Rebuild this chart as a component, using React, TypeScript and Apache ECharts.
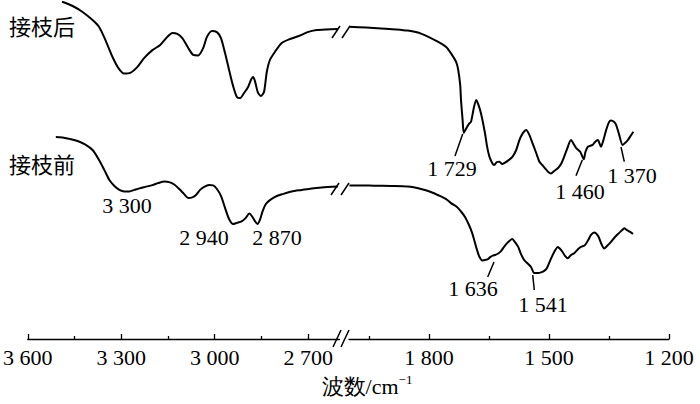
import React, { useEffect, useRef } from "react";
import * as echarts from "echarts";

// Wavenumber ticks (cm^-1)
const LEFT_TICKS = [3600, 3300, 3000, 2700];
const LEFT_MINOR = [3450, 3150, 2850];
const RIGHT_TICKS = [1800, 1500, 1200];
const RIGHT_MINOR = [1950, 1650, 1350];

// 接枝后 (after grafting), high wavenumber part: [wavenumber, transmittance]
const afterHigh: [number, number][] = [
  [3490, 112.4], [3456, 111.0], [3424, 109.0], [3392, 106.3], [3371, 104.0], [3351, 99.7],
  [3328, 94.0], [3309, 90.3], [3291, 88.5], [3271, 88.7], [3248, 90.7], [3226, 93.7],
  [3200, 96.3], [3175, 98.0], [3152, 100.7], [3136, 102.0], [3120, 101.7], [3104, 100.3],
  [3085, 97.0], [3069, 94.7], [3053, 94.5], [3037, 97.0], [3025, 100.7], [3009, 102.7],
  [2993, 102.3], [2980, 100.3], [2967, 95.3], [2954, 89.7], [2941, 84.3], [2929, 80.7],
  [2919, 80.3], [2906, 82.0], [2893, 84.0], [2884, 86.3], [2877, 87.3], [2871, 86.0],
  [2862, 82.3], [2852, 81.0], [2842, 82.3], [2833, 89.0], [2823, 93.0], [2807, 95.7],
  [2785, 98.7], [2759, 100.0], [2730, 101.0], [2702, 102.3], [2673, 103.0], [2641, 103.2],
  [2605, 103.3],
];

// 接枝后, fingerprint part
const afterLow: [number, number][] = [
  [1999, 104.1], [1957, 103.8], [1920, 103.5], [1882, 103.2], [1853, 102.8], [1820, 101.8],
  [1778, 99.1], [1757, 97.3], [1745, 95.2], [1732, 92.3], [1727, 89.7], [1722, 84.7],
  [1720, 79.7], [1716, 73.0], [1713, 68.7], [1707, 70.2], [1700, 71.7], [1695, 72.4],
  [1688, 77.0], [1682, 79.7], [1677, 78.3], [1670, 75.2], [1660, 68.6], [1655, 64.3],
  [1649, 60.8], [1642, 58.7], [1637, 58.0], [1630, 59.0], [1624, 59.1], [1617, 58.3],
  [1612, 58.6], [1600, 59.7], [1591, 60.8], [1582, 63.0], [1574, 66.3], [1565, 68.7],
  [1557, 69.7], [1550, 68.3], [1541, 65.2], [1532, 62.0], [1524, 59.1], [1517, 58.0],
  [1510, 56.9], [1502, 55.7], [1495, 55.2], [1487, 56.0], [1478, 56.9], [1470, 58.3],
  [1462, 60.8], [1455, 63.3], [1445, 66.3], [1437, 64.7], [1432, 63.6], [1422, 62.4],
  [1413, 59.9], [1409, 62.3], [1403, 64.1], [1391, 64.7], [1385, 65.7], [1378, 66.3],
  [1370, 64.1], [1364, 66.3], [1357, 69.7], [1350, 72.3], [1345, 72.8], [1337, 72.3],
  [1332, 71.3], [1325, 68.3], [1316, 64.7], [1310, 65.3], [1303, 66.3], [1296, 67.7],
  [1289, 69.1],
];

// 接枝前 (before grafting), high wavenumber part
const beforeHigh: [number, number][] = [
  [3510, 67.3], [3488, 67.2], [3466, 66.7], [3440, 66.0], [3415, 64.8], [3392, 63.0],
  [3373, 60.0], [3354, 56.3], [3338, 53.0], [3322, 51.0], [3306, 49.7], [3290, 49.2],
  [3274, 49.2], [3258, 49.7], [3242, 50.2], [3223, 50.7], [3200, 51.3], [3181, 52.0],
  [3162, 52.5], [3146, 52.3], [3130, 51.5], [3114, 50.0], [3098, 48.3], [3085, 47.0],
  [3072, 47.2], [3060, 48.0], [3047, 49.7], [3034, 50.7], [3018, 51.3], [3005, 51.2],
  [2993, 50.0], [2980, 47.7], [2967, 43.7], [2954, 40.0], [2941, 38.3], [2929, 38.7],
  [2914, 39.2], [2901, 40.3], [2889, 41.8], [2881, 41.0], [2871, 39.3], [2863, 38.3],
  [2855, 39.7], [2846, 42.7], [2836, 45.0], [2823, 46.3], [2804, 47.5], [2782, 48.3],
  [2753, 49.2], [2721, 49.7], [2689, 50.2], [2657, 50.5], [2605, 50.8],
];

// 接枝前, fingerprint part
const beforeLow: [number, number][] = [
  [1999, 51.2], [1970, 51.2], [1938, 51.1], [1895, 51.0], [1853, 50.8], [1820, 50.0],
  [1795, 49.0], [1778, 48.0], [1758, 46.7], [1745, 45.3], [1730, 44.0], [1720, 42.5],
  [1710, 40.7], [1700, 38.0], [1692, 35.3], [1687, 33.0], [1680, 29.7], [1674, 27.4],
  [1667, 26.2], [1660, 26.3], [1653, 26.6], [1647, 27.3], [1641, 27.8], [1635, 28.0],
  [1627, 28.5], [1620, 29.3], [1612, 30.8], [1602, 32.3], [1592, 33.3], [1585, 32.3],
  [1577, 30.7], [1570, 28.3], [1562, 26.3], [1552, 25.0], [1545, 24.0], [1537, 22.0],
  [1527, 22.0], [1520, 22.2], [1512, 22.7], [1505, 23.7], [1495, 26.8], [1487, 29.0],
  [1478, 30.7], [1472, 30.0], [1466, 29.0], [1460, 27.7], [1453, 26.9], [1445, 28.0],
  [1437, 28.6], [1427, 30.0], [1420, 30.7], [1410, 31.3], [1402, 33.0], [1395, 34.7],
  [1387, 35.5], [1377, 34.3], [1370, 32.0], [1362, 30.2], [1355, 31.0], [1345, 32.4],
  [1335, 34.0], [1325, 35.3], [1317, 36.3], [1312, 36.9], [1305, 36.3], [1297, 35.7],
  [1290, 35.0],
];

const SERIES_NAMES = ["接枝后", "接枝前"];
const AXIS_TITLE = "波数/cm";
const AXIS_TITLE_SUP = "−1";

const SERIF = "Liberation Serif";
const CJK = "Noto Sans CJK SC";

const fmt = (v: number) =>
  v >= 1000 ? `${Math.floor(v / 1000)} ${String(v % 1000).padStart(3, "0")}` : String(v);

function mainAxis(gridIndex: number, min: number, max: number, ticks: number[]) {
  return {
    type: "value",
    gridIndex,
    position: "bottom",
    min,
    max,
    inverse: true,
    axisLine: { show: true, onZero: false, lineStyle: { color: "#000", width: 1.3 } },
    axisTick: { show: true, inside: true, length: 5, customValues: ticks, lineStyle: { color: "#000", width: 1.3 } },
    axisLabel: {
      show: true,
      customValues: ticks,
      formatter: fmt,
      color: "#000",
      fontSize: 22,
      fontFamily: SERIF,
      margin: 7,
    },
    splitLine: { show: false },
  };
}

function minorAxis(gridIndex: number, min: number, max: number, ticks: number[]) {
  return {
    type: "value",
    gridIndex,
    position: "bottom",
    offset: 0,
    min,
    max,
    inverse: true,
    axisLine: { show: false, onZero: false },
    axisTick: { show: true, inside: true, length: 3, customValues: ticks, lineStyle: { color: "#000", width: 1.3 } },
    axisLabel: { show: false },
    splitLine: { show: false },
  };
}

function lineSeries(name: string, data: [number, number][], axis: number) {
  return {
    type: "line",
    name,
    data,
    xAxisIndex: axis * 2,
    yAxisIndex: axis,
    showSymbol: false,
    smooth: 0.25,
    lineStyle: { color: "#000", width: 2 },
    silent: true,
  };
}

const slash = (x1: number, y1: number, x2: number, y2: number) => ({
  type: "line",
  shape: { x1, y1, x2, y2 },
  style: { stroke: "#000", lineWidth: 1.5 },
});

const label = (text: string, x: number, y: number, family = SERIF, size = 22, align = "center") => ({
  type: "text",
  x,
  y,
  style: { text, fill: "#000", fontSize: size, fontFamily: family, align, verticalAlign: "middle" },
});

export default function App() {
  const ref = useRef<HTMLDivElement>(null);
  useEffect(() => {
    if (!ref.current) return;
    const chart = echarts.init(ref.current, null, { renderer: "svg" });
    chart.setOption({
      animation: false,
      backgroundColor: "#fff",
      grid: [
        { left: 25, width: 314.4, top: 0, bottom: 65 },
        { left: 349, width: 320, top: 0, bottom: 65 },
      ],
      xAxis: [
        mainAxis(0, 2600, 3600, LEFT_TICKS),
        minorAxis(0, 2600, 3600, LEFT_MINOR),
        mainAxis(1, 1200, 2000, RIGHT_TICKS),
        minorAxis(1, 1200, 2000, RIGHT_MINOR),
      ],
      yAxis: [
        { type: "value", gridIndex: 0, min: 0, max: 113, show: false },
        { type: "value", gridIndex: 1, min: 0, max: 113, show: false },
      ],
      series: [
        lineSeries(SERIES_NAMES[0], afterHigh, 0),
        lineSeries(SERIES_NAMES[0], afterLow, 1),
        lineSeries(SERIES_NAMES[1], beforeHigh, 0),
        lineSeries(SERIES_NAMES[1], beforeLow, 1),
      ],
      graphic: [
        // break marks on the axis
        slash(333, 347, 341, 330),
        slash(341, 347, 349, 330),
        // break marks on the curves
        slash(332, 38, 340, 26),
        slash(342, 38, 350, 26),
        slash(331, 195, 339, 183),
        slash(341, 195, 349, 183),
        // curve names
        label(SERIES_NAMES[0], 9, 25, CJK, 22, "left"),
        label(SERIES_NAMES[1], 9, 163, CJK, 22, "left"),
        // peak annotations
        label("3 300", 127, 205),
        label("2 940", 204, 237),
        label("2 870", 277, 237),
        label("1 729", 452, 168),
        slash(462.7, 134, 455, 156),
        label("1 460", 580, 191),
        slash(582.3, 160, 576, 175.7),
        label("1 370", 632, 175),
        slash(621, 147, 624.3, 161.7),
        label("1 636", 473, 288),
        slash(494, 262, 487.7, 277),
        label("1 541", 543, 304),
        slash(532.7, 275, 534.3, 290),
        // axis title
        {
          type: "text",
          x: 367,
          y: 385,
          style: {
            text: `{t|${AXIS_TITLE}}{s|${AXIS_TITLE_SUP}}`,
            align: "center",
            verticalAlign: "middle",
            rich: {
              t: { fontSize: 22, fontFamily: SERIF, fill: "#000", lineHeight: 24, verticalAlign: "bottom" },
              s: { fontSize: 13, fontFamily: SERIF, fill: "#000", lineHeight: 24, verticalAlign: "top", padding: [0, 0, 10, 0] },
            },
          },
        },
      ],
    });
    return () => chart.dispose();
  }, []);
  return (
    <div
      ref={ref}
      style={{ position: "fixed", left: 0, top: 0, width: 700, height: 404, background: "#fff" }}
    />
  );
}
